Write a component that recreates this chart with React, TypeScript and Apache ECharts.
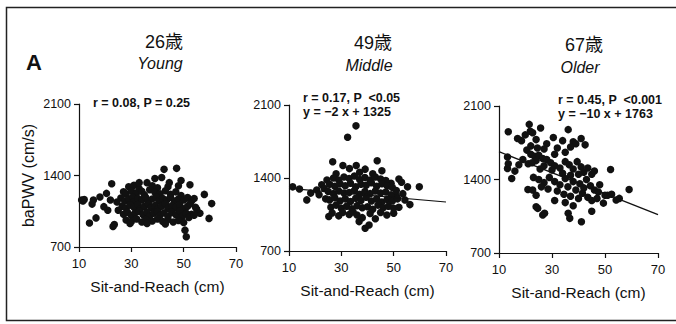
import React, { useEffect, useRef } from "react";
import * as echarts from "echarts";

const FONT = "'Liberation Sans', Arial, 'Noto Sans CJK JP', sans-serif";

const xTicks = [10, 30, 50, 70];
const yTicks = [700, 1400, 2100];
const ageLabels = ["26歳", "49歳", "67歳"];
const groupLabels = ["Young", "Middle", "Older"];
const statLines = [
  ["r = 0.08, P = 0.25"],
  ["r = 0.17, P  <0.05", "y = −2 x + 1325"],
  ["r = 0.45, P  <0.001", "y = −10 x + 1763"],
];

const youngPoints = [
  [11, 1160], [11.5, 1150], [12, 1165], [15.5, 1160], [15, 1120], [14, 935], [16.5, 985], [19.5, 1095],
  [20.5, 1225], [22, 1160], [22.5, 1320], [23.5, 920], [23, 900], [21, 1060], [18, 1190],
  [42.5, 1460], [47.3, 1470], [41.6, 1380], [52.4, 1310], [57.9, 1215], [60.7, 1125], [59.7, 980],
  [56.2, 1030], [50.5, 865], [51, 800], [55, 1070], [53, 1020], [49, 1350],
  [29, 1290], [31, 1305], [33, 1270], [36, 1330], [38, 1300], [40, 1280], [44, 1290],
  [27, 1240], [28, 1220], [30, 1250], [32, 1230], [34, 1245], [35, 1210], [37, 1260], [39, 1235],
  [41, 1220], [43, 1250], [45, 1215], [47, 1240], [49, 1205],
  [26, 1180], [27.5, 1150], [29, 1170], [30.5, 1190], [31, 1140], [32.5, 1175], [34, 1160], [35.5, 1185],
  [36.5, 1145], [38, 1170], [39.5, 1190], [40.5, 1150], [42, 1175], [43.5, 1160], [45, 1185], [46.5, 1150],
  [48, 1170], [50, 1160], [51.5, 1185], [53, 1150], [54, 1175],
  [26.5, 1100], [28, 1080], [29.5, 1110], [31, 1090], [32.5, 1115], [33.5, 1075], [35, 1100], [36.5, 1120],
  [37.5, 1085], [39, 1105], [40, 1070], [41.5, 1100], [43, 1120], [44, 1080], [45.5, 1105], [47, 1090],
  [48.5, 1110], [50, 1075], [51.5, 1100], [52.5, 1125], [54.5, 1090],
  [27, 1020], [28.5, 1040], [30, 1010], [31.5, 1035], [33, 1050], [34.5, 1015], [36, 1040], [37, 1005],
  [38.5, 1030], [40, 1045], [41, 1010], [42.5, 1035], [44, 1000], [45.5, 1040], [47, 1015], [48.5, 1050],
  [49.5, 1000], [51, 1030], [52, 990], [54, 1010],
  [28, 965], [30, 950], [32, 975], [34, 945], [35.5, 970], [38, 955], [40, 975], [42, 950], [44, 970],
  [46, 945], [48, 960], [50, 940], [29.5, 930], [36, 930], [43, 925],
  [39, 1370], [44.5, 1330], [48, 1300], [33, 1330], [25, 1060], [24.5, 1140],
];

const middlePoints = [
  [35.6, 1900], [32.4, 1790],
  [26.7, 1555], [43.7, 1565], [35.7, 1520], [30.6, 1520], [39.1, 1485], [45.5, 1470], [33.1, 1490],
  [42, 1440], [28, 1440], [37, 1455],
  [11.4, 1315], [14, 1295], [16.8, 1190], [18.3, 1255], [20.6, 1285], [22.5, 1335], [21.5, 1240],
  [23.5, 1300], [24.5, 1380], [24, 1200],
  [59.8, 1315], [55.3, 1315], [56.2, 1145], [54.3, 1190], [52, 1390], [53, 1360], [51, 1230], [50, 1062],
  [47.4, 1046], [49, 1350], [53.5, 1250],
  [39.1, 918], [40.6, 950], [36.8, 982], [25.2, 1030], [29, 1037], [33, 1050], [43, 1010], [45, 1070], [38, 1020],
  [27, 1400], [29, 1380], [31, 1410], [33, 1395], [35, 1420], [37, 1385], [39, 1405], [41, 1380], [43, 1410],
  [45, 1390], [47, 1375],
  [25.5, 1340], [27.5, 1320], [29.5, 1345], [31.5, 1325], [33.5, 1350], [35.5, 1315], [37.5, 1340],
  [39.5, 1330], [41.5, 1355], [43.5, 1320], [45.5, 1345], [47.5, 1325], [49.5, 1310],
  [25, 1270], [27, 1250], [29, 1275], [31, 1255], [33, 1260], [35, 1280], [37, 1245], [39, 1270], [41, 1250],
  [43, 1275], [45, 1255], [47, 1265], [49, 1240], [51, 1280],
  [25.5, 1190], [27.5, 1210], [29.5, 1180], [31.5, 1200], [33.5, 1175], [35.5, 1205], [37.5, 1185],
  [39.5, 1215], [41.5, 1180], [43.5, 1200], [45.5, 1170], [47.5, 1195], [49.5, 1180], [51.5, 1200],
  [26, 1120], [28, 1140], [30, 1110], [32, 1130], [34, 1105], [36, 1135], [38, 1115], [40, 1125], [42, 1100],
  [44, 1140], [46, 1115], [48, 1130], [50, 1110], [52, 1120],
  [26.5, 1065], [30.5, 1070], [34.5, 1075], [41, 1060], [36, 1045],
];

const olderPoints = [
  [13.5, 1855], [21.4, 1925], [25.7, 1890], [36.1, 1875], [19.9, 1825], [21.8, 1860], [22.7, 1845],
  [18.5, 1770], [17, 1790], [24, 1780], [28, 1740], [30.5, 1800], [32, 1700], [34, 1770], [35, 1660],
  [38, 1760], [39, 1740], [41, 1790], [42.5, 1730], [27, 1690], [24.5, 1700], [22, 1720], [20.5, 1680],
  [31, 1640], [37, 1710],
  [13.2, 1615], [13.2, 1505], [13.5, 1550], [14.8, 1410], [17.5, 1540], [19, 1590], [21, 1550], [16, 1480],
  [22, 1640], [23.5, 1620], [25, 1630], [26.5, 1600], [28, 1590], [24, 1580], [29.5, 1560], [31, 1530],
  [33, 1510], [35, 1570], [36.5, 1540], [38, 1500], [39.5, 1570], [41, 1520], [42, 1470], [43.5, 1510],
  [45, 1450], [46, 1480], [27, 1530], [30, 1490], [34, 1460], [37, 1440], [40, 1450], [22.5, 1560], [25.5, 1500],
  [23, 1420], [25, 1400], [27, 1370], [29, 1420], [31, 1380], [33, 1350], [35, 1410], [36, 1330], [38, 1380],
  [39, 1300], [40.5, 1360], [42, 1320], [43, 1400], [44.5, 1340], [46, 1300], [47.5, 1280], [48, 1350],
  [49.4, 1175], [50, 1250], [26, 1330], [28.5, 1310], [32, 1290], [34.5, 1260], [37, 1240], [40, 1220],
  [41.5, 1270], [43.5, 1230], [45, 1200], [47, 1220],
  [20.9, 1305], [22.7, 1300], [24, 1250], [24, 1140], [24.6, 1125], [26.5, 1062], [27.2, 1078], [36.1, 1078],
  [36.7, 1030], [41.1, 998], [45, 1097], [35, 1180], [38, 1150], [31, 1200],
  [52.1, 1495], [59.1, 1305], [55.4, 1220], [54.2, 1205], [51, 1250], [52.5, 1260],
];

const middleFit = [[10, 1300], [70, 1170]];
const olderFit = [[10, 1665], [70, 1065]];

const grids = [
  { left: 79, top: 104, width: 157, height: 143 },
  { left: 289, top: 105, width: 157, height: 146 },
  { left: 499, top: 106, width: 159, height: 147 },
];

const titlePos = [
  { x: 164, ageY: 42, groupY: 63 },
  { x: 373, ageY: 43, groupY: 65 },
  { x: 584, ageY: 45, groupY: 67 },
];

const statPos = [
  { x: 93, ys: [103] },
  { x: 303, ys: [98, 112] },
  { x: 558, ys: [99.5, 113.5] },
];

export default function App() {
  const ref = useRef<HTMLDivElement>(null);

  useEffect(() => {
    if (!ref.current) return;
    const chart = echarts.init(ref.current, null, { renderer: "svg" });
    const ink = "#111";

    const xAxes = grids.map((_, i) => ({
      type: "value",
      gridIndex: i,
      min: 10,
      max: 70,
      interval: 10,
      splitLine: { show: false },
      axisLine: { show: true, lineStyle: { color: ink, width: 1.2 } },
      axisTick: { show: true, customValues: xTicks, length: 5, lineStyle: { color: ink, width: 1.2 } },
      axisLabel: { customValues: xTicks, color: ink, fontSize: 13, margin: 10, fontFamily: FONT },
      name: "Sit-and-Reach (cm)",
      nameLocation: "middle",
      nameGap: 32,
      nameTextStyle: { fontSize: 15.5, color: ink, fontFamily: FONT },
    }));

    const yAxes = grids.map((_, i) => ({
      type: "value",
      gridIndex: i,
      min: 700,
      max: 2100,
      interval: 700,
      splitLine: { show: false },
      axisLine: { show: true, lineStyle: { color: ink, width: 1.2 } },
      axisTick: { show: true, length: 5, lineStyle: { color: ink, width: 1.2 } },
      axisLabel: {
        color: ink,
        fontSize: 12.5,
        margin: 8,
        fontFamily: FONT,
        customValues: yTicks,
        formatter: (v: number) => String(v),
      },
      name: i === 0 ? "baPWV (cm/s)" : "",
      nameLocation: "middle",
      nameGap: 43,
      nameRotate: 90,
      nameTextStyle: { fontSize: 16, color: ink, fontFamily: FONT },
    }));

    const pointSets = [youngPoints, middlePoints, olderPoints];
    const series: any[] = pointSets.map((pts, i) => ({
      type: "scatter",
      xAxisIndex: i,
      yAxisIndex: i,
      data: pts,
      symbol: "circle",
      symbolSize: 7.5,
      itemStyle: { color: ink, opacity: 1 },
    }));
    [[middleFit, 1], [olderFit, 2]].forEach(([fit, i]: any) => {
      series.push({
        type: "line",
        xAxisIndex: i,
        yAxisIndex: i,
        data: fit,
        showSymbol: false,
        symbol: "none",
        lineStyle: { color: ink, width: 1.2 },
        z: 3,
      });
    });

    const graphic: any[] = [
      {
        type: "rect",
        shape: { x: 6.5, y: 7.5, width: 720, height: 313 },
        style: { fill: "none", stroke: "#222", lineWidth: 1.5 },
        silent: true,
      },
      {
        type: "text",
        x: 34,
        y: 62,
        style: { text: "A", font: `bold 22px ${FONT}`, fill: ink, textAlign: "center", textVerticalAlign: "middle" },
      },
    ];
    titlePos.forEach((p, i) => {
      graphic.push({
        type: "text",
        x: p.x,
        y: p.ageY,
        style: { text: ageLabels[i], font: `18px ${FONT}`, fill: ink, textAlign: "center", textVerticalAlign: "middle" },
      });
      graphic.push({
        type: "text",
        x: p.x - 4,
        y: p.groupY,
        style: { text: groupLabels[i], font: `italic 16px ${FONT}`, fill: ink, textAlign: "center", textVerticalAlign: "middle" },
      });
    });
    statPos.forEach((p, i) => {
      p.ys.forEach((yy, j) => {
        graphic.push({
          type: "text",
          x: p.x,
          y: yy,
          style: { text: statLines[i][j], font: `bold 12.5px ${FONT}`, fill: ink, textAlign: "left", textVerticalAlign: "middle" },
        });
      });
    });

    chart.setOption({
      animation: false,
      backgroundColor: "#fff",
      textStyle: { fontFamily: FONT },
      grid: grids,
      xAxis: xAxes,
      yAxis: yAxes,
      series,
      graphic,
    });

    return () => chart.dispose();
  }, []);

  return (
    <div
      ref={ref}
      style={{ position: "fixed", left: 0, top: 0, width: 676, height: 324, background: "#fff" }}
    />
  );
}
